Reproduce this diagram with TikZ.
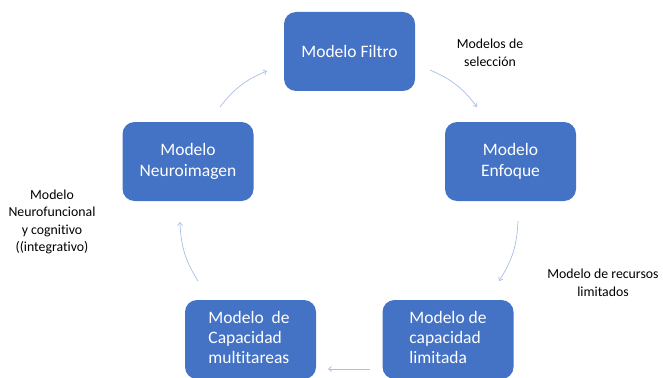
\documentclass[tikz,border=0pt]{standalone}
\usepackage{fontspec}
\setmainfont{Carlito}[Ligatures=NoCommon]
\usetikzlibrary{arrows.meta}
\definecolor{boxblue}{HTML}{4472C4}
\definecolor{arrblue}{HTML}{A9BEE4}
\tikzset{
  mbox/.style={draw=none, fill=boxblue, rounded corners=12pt, minimum width=131pt, minimum height=79pt, text=white, font=\fontsize{17.5}{21}\selectfont, inner sep=0pt},
  lbl/.style={align=center, font=\fontsize{13.8}{17.5}\selectfont, text=black, inner sep=0pt},
  conn/.style={draw=arrblue, line width=0.7pt, -{Straight Barb[length=3pt,width=5pt]}}
}
\begin{document}
\begin{tikzpicture}[x=1pt,y=-1pt]
\useasboundingbox (0,0) rectangle (663,377);
\clip (0,0) rectangle (663,377);
\node[mbox, align=center] (filtro) at (349.5,51.5) {Modelo Filtro};
\node[mbox, align=center] (enfoque) at (510.5,161.5) {Modelo\\Enfoque};
\node[mbox, align=center] (neuro) at (188,161.5) {Modelo\\Neuroimagen};
\node[mbox] (multi) at (250.5,339.5) {};
\node[mbox] (limit) at (448,339.5) {};
\node[text=white, font=\fontsize{17.5}{20}\selectfont, align=left, inner sep=0pt] (multitxt) at (249,337) {Modelo~ de\\Capacidad\\multitareas};
\node[text=white, font=\fontsize{17.5}{20}\selectfont, align=left, inner sep=0pt] (limittxt) at (448,337) {Modelo de\\capacidad\\limitada};
\node[lbl] (sel) at (490,53) {Modelos de\\selección};
\node[lbl] (rec) at (603,283) {Modelo de recursos\\limitados};
\node[lbl] (nf) at (52,222) {Modelo\\Neurofuncional\\y cognitivo\\((integrativo)};
\coordinate (a1) at (430,70);
\coordinate (b1) at (477,107);
\coordinate (a2) at (518,221);
\coordinate (b2) at (499,281);
\coordinate (a3) at (370,369);
\coordinate (b3) at (328,369);
\coordinate (a4) at (198,281);
\coordinate (b4) at (180,222);
\coordinate (a5) at (220,107);
\coordinate (b5) at (267,71);
\draw[conn] (a1) to[bend left=15] (b1);
\draw[conn] (a2) to[bend left=15] (b2);
\draw[conn] (a3) -- (b3);
\draw[conn] (a4) to[bend left=15] (b4);
\draw[conn] (a5) to[bend left=15] (b5);
\end{tikzpicture}
\end{document}
